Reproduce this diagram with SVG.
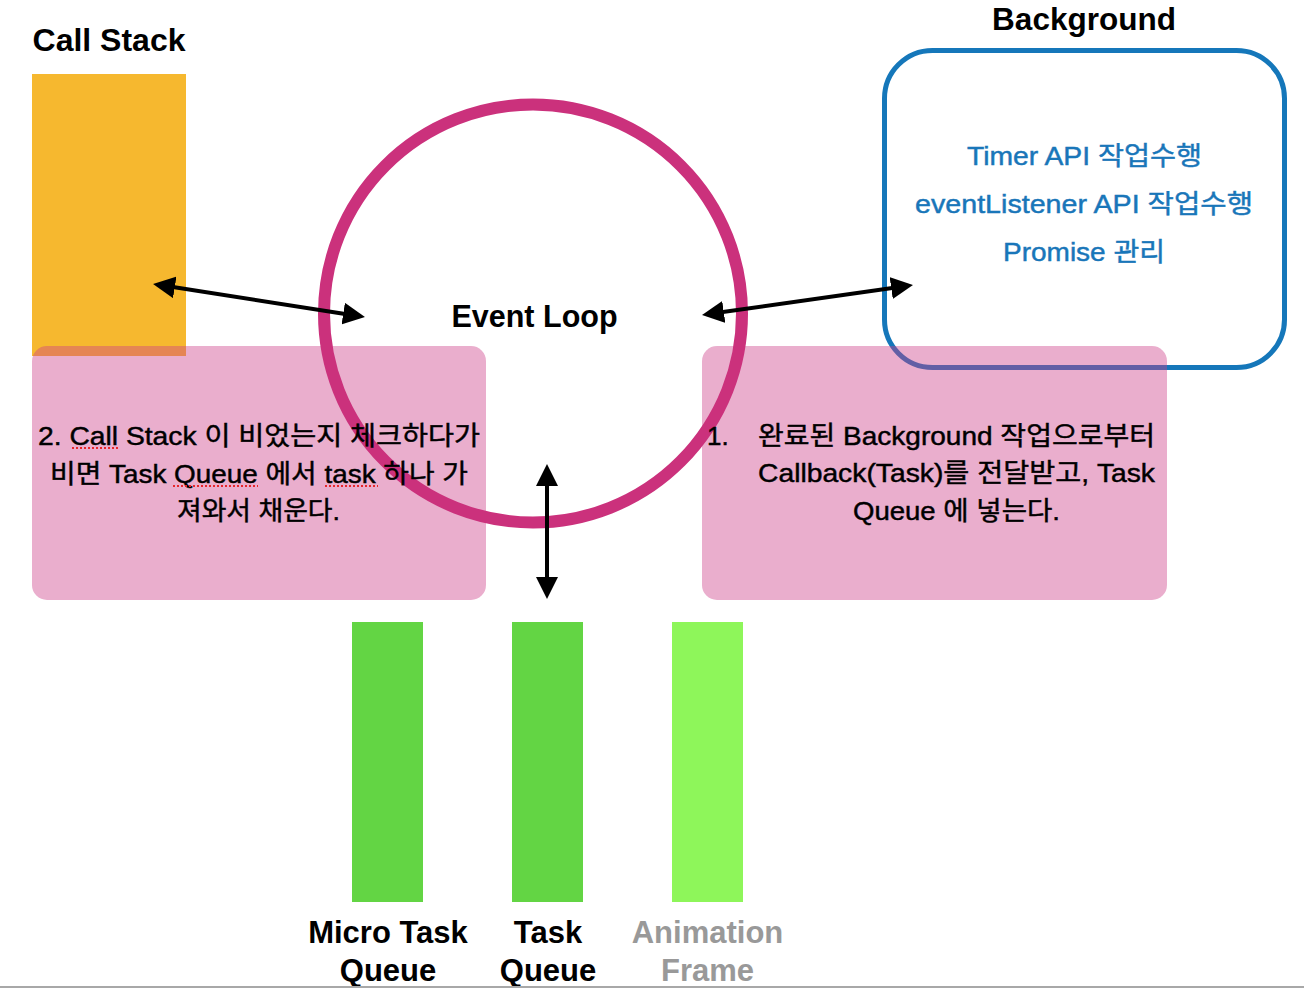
<svg xmlns="http://www.w3.org/2000/svg" width="1304" height="988" viewBox="0 0 1304 988">
<defs>
<style>
.title{font-family:"Liberation Sans","Noto Sans CJK KR",sans-serif;font-weight:bold;font-size:30.5px;fill:#000;text-anchor:middle}
.body{font-family:"Liberation Sans","Noto Sans CJK KR",sans-serif;font-size:26px;fill:#000;stroke:#000;stroke-width:0.45px;text-anchor:middle}
.blue{font-family:"Liberation Sans","Noto Sans CJK KR",sans-serif;font-size:26px;fill:#1976B9;stroke:#1976B9;stroke-width:0.45px;text-anchor:middle}
.pink{fill:#CD3E88;fill-opacity:0.42}
.conn{stroke:#000;stroke-width:4;fill:none;marker-start:url(#ah);marker-end:url(#ah)}
.spell{stroke:#E8262B;stroke-width:2;stroke-dasharray:2 2}
.gray{fill:#999999}
</style>
<marker id="ah" viewBox="0 0 22 22" refX="10" refY="11" markerWidth="22" markerHeight="22" markerUnits="userSpaceOnUse" orient="auto-start-reverse">
<path d="M0,0 L22,11 L0,22 z" fill="#000"/>
</marker>
</defs>
<rect width="1304" height="988" fill="#fff"/>

<g id="call-stack">
<text class="title" x="109" y="51" style="font-size:32px">Call Stack</text>
<rect x="32" y="74" width="154" height="282" fill="#F6B82F"/>
</g>

<g id="background">
<text class="title" x="1084" y="30" style="font-size:31.5px">Background</text>
<rect x="884.5" y="50.5" width="400" height="317" rx="48" fill="none" stroke="#1577BA" stroke-width="5"/>
<text class="blue" x="1084.5" y="165" textLength="235" lengthAdjust="spacingAndGlyphs">Timer API 작업수행</text>
<text class="blue" x="1084" y="213" textLength="338" lengthAdjust="spacingAndGlyphs">eventListener API 작업수행</text>
<text class="blue" x="1084" y="261" textLength="162" lengthAdjust="spacingAndGlyphs">Promise 관리</text>
</g>

<g id="step2-box">
<rect class="pink" x="32" y="346" width="454" height="254" rx="15"/>
</g>
<g id="step1-box">
<rect class="pink" x="702" y="346" width="465" height="254" rx="15"/>
</g>

<g id="event-loop">
<circle cx="533" cy="313.5" r="209" fill="none" stroke="#CB317C" stroke-width="12"/>
<text class="title" x="534.5" y="327">Event Loop</text>
</g>

<g id="step2-text">
<text class="body" x="259" y="445" textLength="442" lengthAdjust="spacingAndGlyphs">2. Call Stack 이 비었는지 체크하다가</text>
<text class="body" x="259" y="483" textLength="418" lengthAdjust="spacingAndGlyphs">비면 Task Queue 에서 task 하나 가</text>
<text class="body" x="258.5" y="520" textLength="163" lengthAdjust="spacingAndGlyphs">져와서 채운다.</text>
<line class="spell" x1="72" y1="448" x2="120" y2="448"/>
<line class="spell" x1="173" y1="486" x2="258" y2="486"/>
<line class="spell" x1="325" y1="486" x2="378" y2="486"/>
</g>

<g id="step1-text">
<text class="body" x="707" y="445" style="text-anchor:start">1.</text>
<text class="body" x="956.5" y="445" textLength="397" lengthAdjust="spacingAndGlyphs">완료된 Background 작업으로부터</text>
<text class="body" x="956.5" y="482" textLength="397" lengthAdjust="spacingAndGlyphs">Callback(Task)를 전달받고, Task</text>
<text class="body" x="956.5" y="520" textLength="207" lengthAdjust="spacingAndGlyphs">Queue 에 넣는다.</text>
</g>

<g id="micro-task-queue">
<rect x="352" y="622" width="71" height="280" fill="#63D544"/>
<text class="title" x="388" y="943" style="font-size:31px">Micro Task</text>
<text class="title" x="388" y="981" style="font-size:31px">Queue</text>
</g>
<g id="task-queue">
<rect x="512" y="622" width="71" height="280" fill="#63D544"/>
<text class="title" x="548" y="943" style="font-size:31px">Task</text>
<text class="title" x="548" y="981" style="font-size:31px">Queue</text>
</g>
<g id="animation-frame">
<rect x="672" y="622" width="71" height="280" fill="#8EF65A"/>
<text class="title gray" x="707.5" y="943" style="font-size:31px;fill:#999999">Animation</text>
<text class="title gray" x="707.5" y="981" style="font-size:31px;fill:#999999">Frame</text>
</g>

<g id="connectors">
<line class="conn" x1="164.9" y1="285.8" x2="353.1" y2="315.2"/>
<line class="conn" x1="713.9" y1="313.3" x2="901.1" y2="286.7"/>
<line class="conn" x1="547" y1="476" x2="547" y2="587"/>
</g>

<rect x="0" y="986" width="1304" height="2" fill="#A8A8A8"/>
</svg>
